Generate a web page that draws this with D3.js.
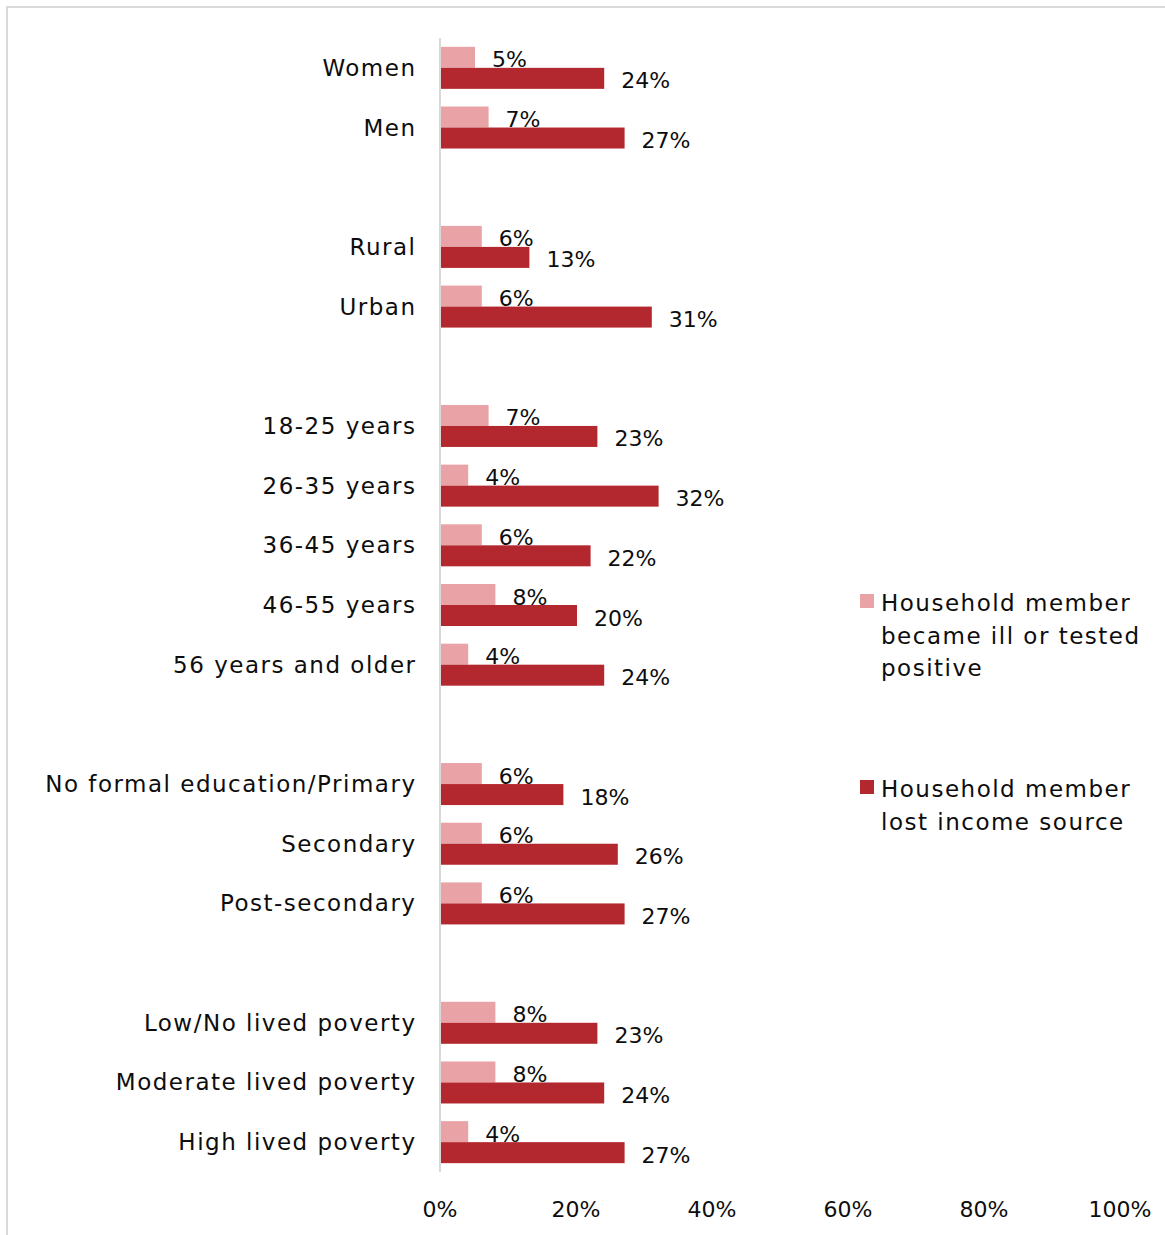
<!DOCTYPE html>
<html>
<head>
<meta charset="utf-8">
<script src="https://cdn.jsdelivr.net/npm/d3@7"></script>
<style>
  html, body { margin: 0; padding: 0; background: #fff; }
  svg { display: block; }
  text { font-family: "DejaVu Sans", sans-serif; fill: #0d0d0d; }
</style>
</head>
<body>
<svg id="chart" width="1165" height="1235"></svg>
<script>
// Row labels; empty strings are spacer rows separating the groups
const categories = [
  "Women", "Men", "",
  "Rural", "Urban", " ",
  "18-25 years", "26-35 years", "36-45 years", "46-55 years", "56 years and older", "  ",
  "No formal education/Primary", "Secondary", "Post-secondary", "   ",
  "Low/No lived poverty", "Moderate lived poverty", "High lived poverty"
];
const seriesNames = [
  "Household member became ill or tested positive",
  "Household member lost income source"
];
const illValues = [5, 7, null, 6, 6, null, 7, 4, 6, 8, 4, null, 6, 6, 6, null, 8, 8, 4];
const incomeValues = [24, 27, null, 13, 31, null, 23, 32, 22, 20, 24, null, 18, 26, 27, null, 23, 24, 27];
const xTicks = [0, 20, 40, 60, 80, 100];
const legendLines = [
  ["Household member", "became ill or tested", "positive"],
  ["Household member", "lost income source"]
];

const colors = ["#E9A2A6", "#B3282E"];

const svg = d3.select("#chart");

// outer frame
svg.append("rect")
  .attr("x", 7).attr("y", 7).attr("width", 1170).attr("height", 1240)
  .attr("fill", "none").attr("stroke", "#d9d9d9").attr("stroke-width", 2);

const x = d3.scaleLinear().domain([0, 100]).range([440, 1120]);
const y = d3.scaleBand().domain(categories).range([38, 1172]).padding(0);
const barH = 21;
const sub = d3.scaleBand().domain([0, 1]).range([-barH, barH]);

const rows = categories.map((c, i) => ({ c, vals: [illValues[i], incomeValues[i]] }))
  .filter(d => d.c.trim() !== "");

const spacing = 1.5;

// bars with their value labels, plus row labels
rows.forEach(r => {
  const cy = y(r.c) + y.bandwidth() / 2;
  r.vals.forEach((v, k) => {
    svg.append("rect")
      .attr("x", x(0) + 1)
      .attr("y", cy + sub(k))
      .attr("width", x(v) - x(0))
      .attr("height", sub.bandwidth())
      .attr("fill", colors[k]);
    svg.append("text")
      .attr("x", x(v) + 18)
      .attr("y", cy + sub(k) + sub.bandwidth() - 0.5)
      .attr("font-size", 22)
      .text(v + "%");
  });
  svg.append("text")
    .attr("x", 415 + spacing)
    .attr("y", cy + 8)
    .attr("text-anchor", "end")
    .attr("font-size", 23)
    .attr("letter-spacing", spacing)
    .text(r.c);
});

// vertical axis line
svg.append("line")
  .attr("x1", x(0)).attr("x2", x(0))
  .attr("y1", 38).attr("y2", 1172)
  .attr("stroke", "#d9d9d9").attr("stroke-width", 2);

// x tick labels
svg.selectAll("text.tick").data(xTicks).enter().append("text")
  .attr("class", "tick")
  .attr("x", d => x(d))
  .attr("y", 1217)
  .attr("text-anchor", "middle")
  .attr("font-size", 22)
  .text(d => d + "%");

// legend
const legendTop = [594, 780];
legendLines.forEach((lines, k) => {
  svg.append("rect")
    .attr("x", 860).attr("y", legendTop[k])
    .attr("width", 14).attr("height", 14)
    .attr("fill", colors[k]);
  const t = svg.append("text")
    .attr("x", 881)
    .attr("y", legendTop[k] + 17)
    .attr("font-size", 23)
    .attr("letter-spacing", spacing);
  t.append("title").text(seriesNames[k]);
  lines.forEach((ln, j) => {
    t.append("tspan").attr("x", 881).attr("dy", j === 0 ? 0 : 32.5).text(ln);
  });
});
</script>
</body>
</html>
